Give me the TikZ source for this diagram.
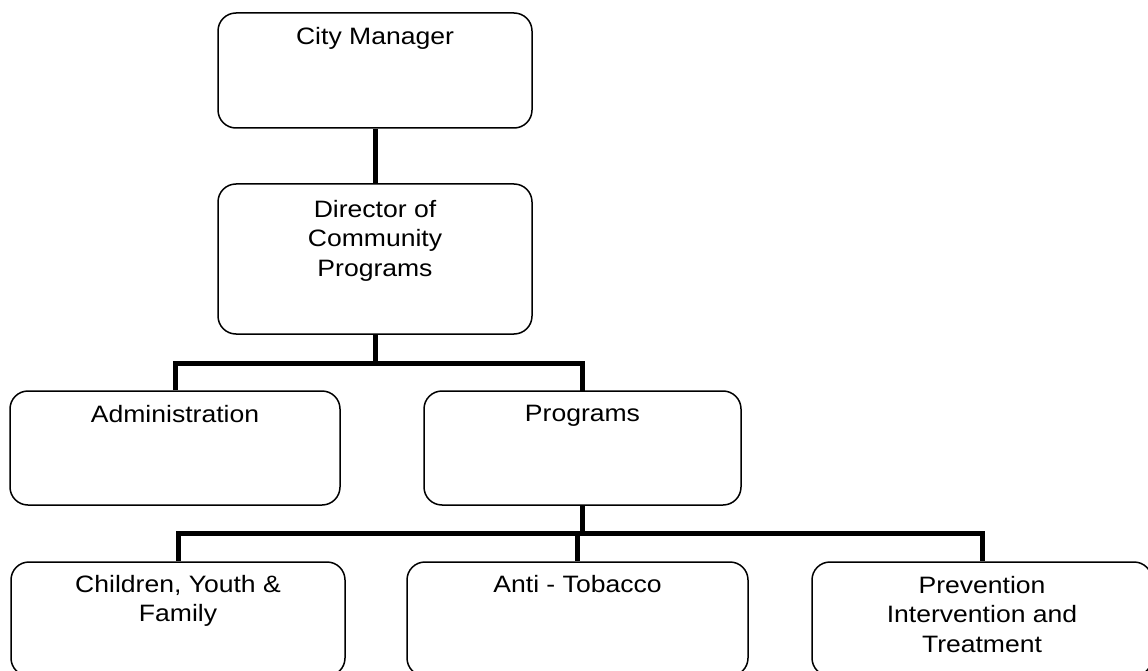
\documentclass[tikz,border=0pt]{standalone}
\usepackage{fontspec}
\setmainfont{Liberation Sans}[FakeStretch=1.12]
\begin{document}
\begin{tikzpicture}[x=1pt,y=-1pt,
  box/.style={draw=black,line width=1.5pt,rounded corners=18pt,rectangle,inner sep=0pt},
  lbl/.style={anchor=north,inner sep=0pt,align=center,font=\fontsize{23.7}{29.5}\selectfont},
  conn/.style={draw=black,line width=5pt,line join=miter}]
\useasboundingbox (0,0) rectangle (1148,671);
% boxes
\node[box,minimum width=314pt,minimum height=115pt] (cm) at (375,70.5) {};
\node[box,minimum width=314pt,minimum height=150pt] (dir) at (375,259) {};
\node[box,minimum width=330pt,minimum height=114pt] (adm) at (175,448) {};
\node[box,minimum width=317pt,minimum height=114pt] (prg) at (582.5,448) {};
\node[box,minimum width=334pt,minimum height=114pt] (cyf) at (178,619) {};
\node[box,minimum width=341pt,minimum height=114pt] (ant) at (577.5,619) {};
\node[box,minimum width=340pt,minimum height=114pt] (pit) at (982,619) {};
% labels
\node[lbl] (tcm) at (375,27) {City Manager};
\node[lbl] (tdir) at (375,200) {Director of\\Community\\Programs};
\node[lbl] (tadm) at (175,405) {Administration};
\node[lbl] (tprg) at (582.5,405) {Programs};
\node[lbl] (tcyf) at (178,575) {Children, Youth \&\\Family};
\node[lbl] (tant) at (577.5,575) {Anti - Tobacco};
\node[lbl] (tpit) at (982,576) {Prevention\\Intervention and\\Treatment};
% connector coordinates
\coordinate (b1) at (375,363);
\coordinate (b2) at (582,533);
% connectors
\draw[conn] (cm.south) -- (dir.north);
\draw[conn] (dir.south) -- (b1);
\draw[conn] (adm.north) -- (adm.north |- b1) -- (582,363) -- (582,391);
\draw[conn] (582,505) -- (b2);
\draw[conn] (cyf.north) -- (cyf.north |- b2) -- (pit.north |- b2) -- (pit.north);
\draw[conn] (b2 -| ant.north) -- (ant.north);
\end{tikzpicture}
\end{document}
